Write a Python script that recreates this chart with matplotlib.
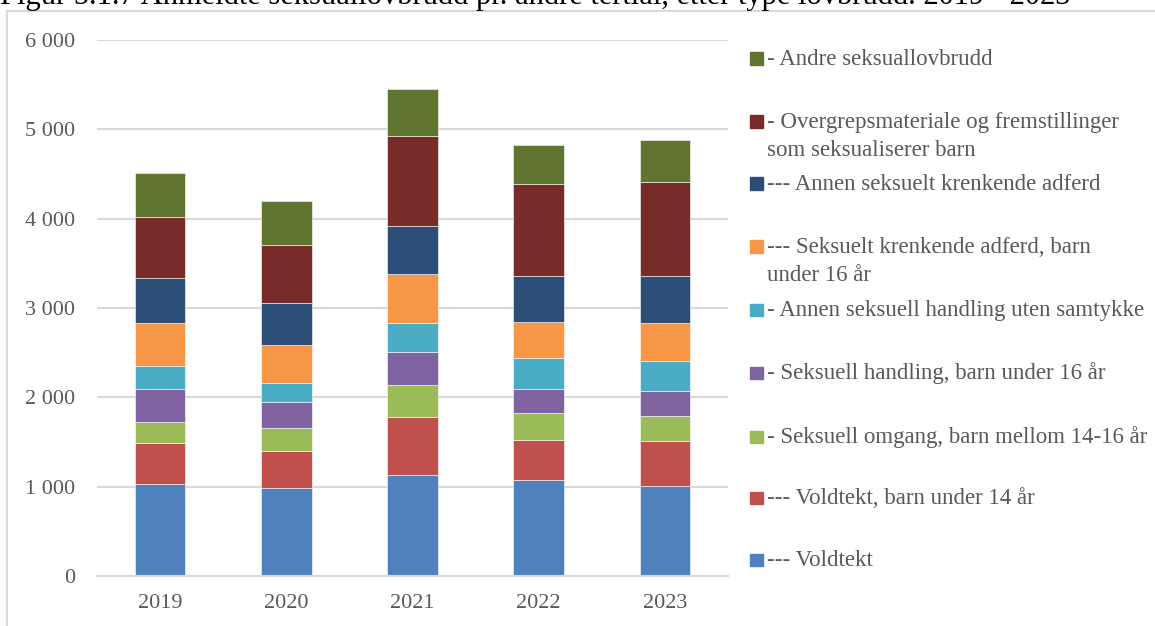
import matplotlib.pyplot as plt
from matplotlib.patches import Rectangle

years = ["2019", "2020", "2021", "2022", "2023"]

# series from bottom to top of each stack
voldtekt = [1030, 982, 1127, 1071, 1010]
voldtekt_barn = [456, 421, 656, 455, 505]
omgang_14_16 = [234, 254, 352, 299, 276]
handling_barn = [373, 287, 376, 268, 284]
handling_uten_samtykke = [261, 213, 318, 344, 335]
krenkende_barn = [482, 426, 552, 410, 426]
annen_krenkende = [497, 470, 537, 511, 526]
overgrepsmateriale = [682, 652, 1011, 1027, 1052]
andre = [500, 496, 519, 440, 467]

series = [voldtekt, voldtekt_barn, omgang_14_16, handling_barn,
          handling_uten_samtykke, krenkende_barn, annen_krenkende,
          overgrepsmateriale, andre]
labels = ["--- Voldtekt",
          "--- Voldtekt, barn under 14 år",
          "- Seksuell omgang, barn mellom 14-16 år",
          "- Seksuell handling, barn under 16 år",
          "- Annen seksuell handling uten samtykke",
          "--- Seksuelt krenkende adferd, barn\nunder 16 år",
          "--- Annen seksuelt krenkende adferd",
          "- Overgrepsmateriale og fremstillinger\nsom seksualiserer barn",
          "- Andre seksuallovbrudd"]
colors = ["#4F81BD", "#C0504D", "#9BBB59", "#8064A2", "#4BACC6",
          "#F79646", "#2C4D75", "#772C2A", "#5F7530"]

plt.rcParams['font.family'] = ['Liberation Serif', 'DejaVu Serif']
W, H = 1155, 626
fig = plt.figure(figsize=(W / 100, H / 100), dpi=100)
ax = fig.add_axes([97 / W, (H - 576) / H, 631 / W, 536 / H])

x = list(range(len(years)))
bottom = [0] * len(years)
for vals, col in zip(series, colors):
    ax.bar(x, vals, width=0.4, bottom=bottom, color=col,
           edgecolor="#ffffff", linewidth=0.4)
    bottom = [b + v for b, v in zip(bottom, vals)]

ax.set_xlim(-0.5, len(years) - 0.5)
ax.set_ylim(0, 6000)
ax.set_yticks(range(0, 6001, 1000))
ax.set_yticklabels([f"{v:,}".replace(",", " ") for v in range(0, 6001, 1000)])
ax.set_xticks(x)
ax.set_xticklabels(years)
ax.tick_params(length=0, labelsize=16, colors="#595959")
ax.tick_params(axis="y", pad=16)
ax.tick_params(axis="x", pad=13)
ax.grid(axis="y", color="#d9d9d9", linewidth=1.5)
ax.set_axisbelow(True)
for s in ["top", "right", "left"]:
    ax.spines[s].set_visible(False)
ax.spines["bottom"].set_color("#d9d9d9")
ax.spines["bottom"].set_linewidth(1.5)

# legend, top entry first (pixel centres of the squares)
leg_y = [58, 121, 183, 246, 309, 372, 436, 497, 559]
for yy, lab, col in zip(leg_y, labels[::-1], colors[::-1]):
    fig.add_artist(Rectangle((750 / W, 1 - (yy + 6.5) / H), 13 / W, 12 / H,
                             transform=fig.transFigure, color=col))
    for i, line in enumerate(lab.split("\n")):
        fig.text(767 / W, 1 - (yy + 7 + 27.7 * i) / H, line, fontsize=16.5,
                 color="#595959", va="baseline", ha="left")

# chart frame and cut-off caption
fig.add_artist(Rectangle((7 / W, -0.1), 1.2, 1 - 11 / H + 0.1,
                         transform=fig.transFigure, fill=False,
                         edgecolor="#d9d9d9", linewidth=1.5))
fig.text(0, 1 - 4 / H,
         "Figur 5.1.7 Anmeldte seksuallovbrudd pr. andre tertial, etter type lovbrudd. 2019 - 2023",
         fontsize=22, color="black", va="baseline", ha="left")

fig.savefig("out.png", dpi=100)
